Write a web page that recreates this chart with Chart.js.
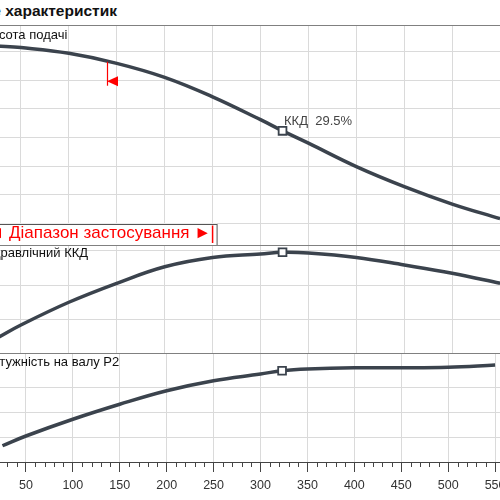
<!DOCTYPE html>
<html>
<head>
<meta charset="utf-8">
<script src="https://cdn.jsdelivr.net/npm/chart.js@4.4.1/dist/chart.umd.min.js"></script>
<style>
html, body { margin: 0; padding: 0; background: #fff; }
body { width: 500px; height: 500px; overflow: hidden; position: relative; font-family: "Liberation Sans", Arial, sans-serif; }
canvas { position: absolute; left: -27px; }
#cHead { top: 25px; }
#cEff { top: 245px; }
#cPow { top: 353px; }
.rule { position: absolute; left: 0; width: 500px; height: 1px; background: #808080; }
#title { position: absolute; right: 383px; top: 2px; font: bold 15.5px "Liberation Sans", Arial, sans-serif; color: #111; white-space: nowrap; }
</style>
</head>
<body>
<div id="title">е характеристик</div>
<canvas id="cHead" width="575" height="220"></canvas>
<canvas id="cEff" width="575" height="109"></canvas>
<canvas id="cPow" width="575" height="147"></canvas>
<div class="rule" style="top:25px"></div>
<div class="rule" style="top:245px"></div>
<div class="rule" style="top:353px"></div>

<script>
// flow values along the curves (Q)
const flow = [25, 50, 100, 150, 200, 250, 300, 323, 350, 400, 450, 500, 550];
const head = [7.2, 7.14, 6.94, 6.59, 6.10, 5.42, 4.62, 4.23, 3.80, 2.98, 2.28, 1.67, 1.16];
const efficiency = [4.6, 8.4, 15.0, 20.5, 25.3, 28.0, 29.0, 29.5, 29.3, 28.0, 25.8, 23.4, 20.5];
const power = [130, 208, 342, 462, 570, 650, 704, 730, 744, 754, 754, 758, 776];

const bepIndex = 7;          // best efficiency point (marker)
const rangeStart = 140;      // application range
const rangeEnd = 250;

const flowLabels = [50, 100, 150, 200, 250, 300, 350, 400, 450, 500, 550];
const headGrid = [1, 2, 3, 4, 5, 6, 7];
const effGrid = [10, 20, 30];
const powerGrid = [200, 400, 600];

const curveColor = "#3b434d";
const gridColor = "#dadada";

/* ---------- panel caption ---------- */
const captionPlugin = {
    id: "caption",
    afterDraw(chart, args, opts) {
        const ctx = chart.ctx;
        ctx.save();
        ctx.font = "13px 'Liberation Sans', Arial, sans-serif";
        ctx.fillStyle = "#111";
        ctx.textBaseline = "middle";
        ctx.textAlign = "left";
        ctx.fillText(opts.text, 10, opts.y);
        ctx.restore();
    }
};

/* ---------- range markers, box and ККД label (head panel) ---------- */
const rangePlugin = {
    id: "range",
    afterDatasetsDraw(chart) {
        const ctx = chart.ctx;
        const xs = chart.scales.x, ys = chart.scales.y;
        const ca = chart.chartArea;
        const xA = Math.round(xs.getPixelForValue(rangeStart));
        const xB = xs.getPixelForValue(rangeEnd);

        // left marker hanging from the curve
        const line = chart.getDatasetMeta(0).dataset;
        let pt = line.interpolate ? line.interpolate({ x: xA }, "x") : null;
        const yTop = pt ? pt.y : ys.getPixelForValue(6.65);
        ctx.save();
        ctx.strokeStyle = "rgb(255,0,0)";
        ctx.fillStyle = "rgb(255,0,0)";
        ctx.lineWidth = 1.2;
        ctx.beginPath();
        ctx.moveTo(xA + 0.5, yTop + 1);
        ctx.lineTo(xA + 0.5, yTop + 25);
        ctx.stroke();
        ctx.beginPath();
        ctx.moveTo(xA, yTop + 20.5);
        ctx.lineTo(xA + 11, yTop + 15.5);
        ctx.lineTo(xA + 11, yTop + 25.5);
        ctx.closePath();
        ctx.fill();

        // application range box
        const bTop = ca.bottom - 21.5;
        ctx.fillStyle = "#fff";
        ctx.fillRect(0, bTop, xB + 4.5, ca.bottom - bTop);
        ctx.strokeStyle = "#555";
        ctx.lineWidth = 1;
        ctx.strokeRect(-2, Math.round(bTop) + 0.5, xB + 6.5, ca.bottom - bTop + 2);

        ctx.strokeStyle = "rgb(255,0,0)";
        ctx.lineWidth = 1.5;
        ctx.beginPath();
        ctx.moveTo(xB, bTop + 2);
        ctx.lineTo(xB, ca.bottom - 2);
        ctx.stroke();

        ctx.fillStyle = "rgb(255,0,0)";
        ctx.font = "17px 'Liberation Sans', Arial, sans-serif";
        ctx.textAlign = "right";
        ctx.textBaseline = "middle";
        ctx.fillText("◄ Діапазон застосування ►", xB - 1.5, bTop + 10);

        // efficiency label at best point
        const mx = xs.getPixelForValue(flow[bepIndex]);
        const my = ys.getPixelForValue(head[bepIndex]);
        ctx.fillStyle = "#444";
        ctx.font = "13px 'Liberation Sans', Arial, sans-serif";
        ctx.textAlign = "left";
        ctx.fillText("ККД  " + efficiency[bepIndex] + "%", mx + 1.5, my - 9.5);
        ctx.restore();
    }
};

/* ---------- minor ticks on the flow axis ---------- */
const minorTickPlugin = {
    id: "minorTicks",
    afterDraw(chart) {
        const xs = chart.scales.x;
        const ctx = chart.ctx;
        ctx.save();
        ctx.strokeStyle = "#444";
        ctx.lineWidth = 1;
        for (let v = xs.min; v <= xs.max; v += 10) {
            if (v % 50 === 0) continue;
            const px = Math.round(xs.getPixelForValue(v)) + 0.5;
            ctx.beginPath();
            ctx.moveTo(px, xs.top);
            ctx.lineTo(px, xs.top + 5);
            ctx.stroke();
        }
        ctx.restore();
    }
};

function makeChart(id, values, yMin, yMax, yGrid, caption, showAxis, plugins) {
    const ctx = document.getElementById(id).getContext("2d");
    return new Chart(ctx, {
        type: "line",
        data: {
            datasets: [{
                data: flow.map((q, i) => ({ x: q, y: values[i] })),
                borderColor: curveColor,
                borderWidth: 3.5,
                tension: 0.4,
                fill: false,
                pointStyle: "rect",
                pointRadius: c => c.dataIndex === bepIndex ? 5.5 : 0,
                pointBackgroundColor: "#fff",
                pointBorderColor: curveColor,
                pointBorderWidth: 1.8
            }]
        },
        options: {
            responsive: false,
            animation: false,
            layout: { padding: 0 },
            plugins: {
                legend: { display: false },
                tooltip: { enabled: false },
                caption: caption
            },
            scales: {
                x: {
                    type: "linear",
                    min: 0,
                    max: 600,
                    border: { display: showAxis, color: "#444" },
                    grid: {
                        color: c => (c.tick && c.tick.value % 50 === 0) ? gridColor : "transparent",
                        tickColor: c => (c.tick && c.tick.value % 50 === 0) ? "#444" : "transparent",
                        drawTicks: showAxis,
                        tickLength: 10
                    },
                    ticks: {
                        display: showAxis,
                        stepSize: 10,
                        autoSkip: false,
                        maxRotation: 0,
                        includeBounds: false,
                        padding: 6,
                        color: "#333",
                        font: { family: "'Liberation Sans', Arial, sans-serif", size: 12.5 },
                        callback: v => flowLabels.includes(v) ? String(v) : ""
                    },
                    afterFit: s => { if (showAxis) s.height = 38; }
                },
                y: {
                    type: "linear",
                    min: yMin,
                    max: yMax,
                    border: { display: false },
                    grid: { color: gridColor, drawTicks: false },
                    ticks: { display: false },
                    afterBuildTicks: s => { s.ticks = yGrid.map(v => ({ value: v })); },
                    afterFit: s => { s.width = 0; }
                }
            }
        },
        plugins: [captionPlugin].concat(plugins)
    });
}

makeChart("cHead", head, 0.24, 7.93, headGrid, { text: "Висота подачі", y: 10 }, false, [rangePlugin]);
makeChart("cEff", efficiency, 0, 31.6, effGrid, { text: "Гідравлічний ККД", y: 8 }, false, []);
makeChart("cPow", power, 0, 872, powerGrid, { text: "Потужність на валу P2", y: 9 }, true, [minorTickPlugin]);
</script>
</body>
</html>
